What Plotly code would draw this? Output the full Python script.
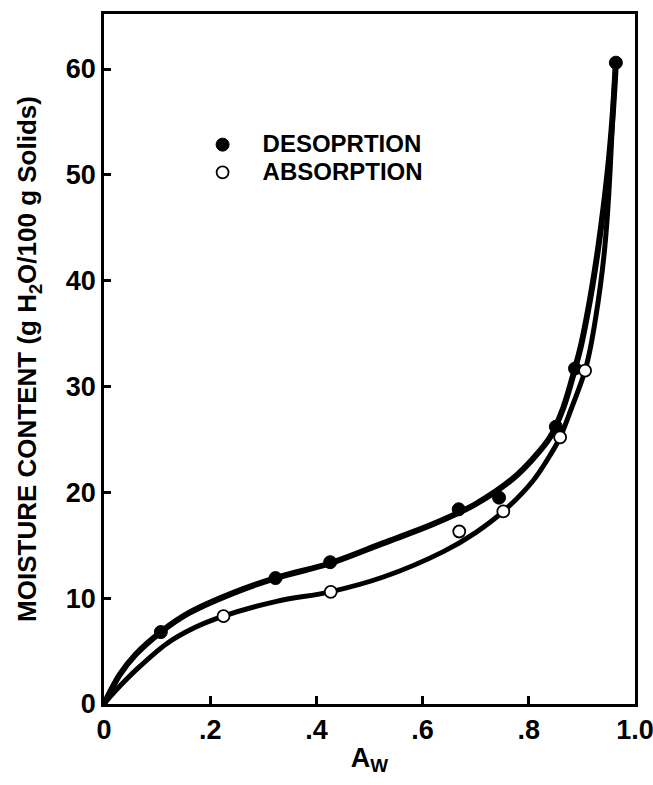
import plotly.graph_objects as go

# Measured points
des_x = [0.107, 0.323, 0.426, 0.668, 0.744, 0.851, 0.887, 0.964]
des_y = [6.8, 11.9, 13.4, 18.4, 19.5, 26.2, 31.7, 60.6]
abs_x = [0.225, 0.427, 0.669, 0.752, 0.859, 0.906]
abs_y = [8.3, 10.6, 16.3, 18.2, 25.2, 31.5]

# Fitted curves
des_curve_x = [0, 0.01, 0.03, 0.06, 0.107, 0.16, 0.244, 0.323, 0.426, 0.526, 0.62, 0.70,
               0.77, 0.81, 0.84, 0.865, 0.887, 0.898, 0.909, 0.920, 0.931, 0.941,
               0.950, 0.957, 0.961, 0.964]
des_curve_y = [0, 1.0, 2.8, 4.7, 6.8, 8.6, 10.5, 11.9, 13.3, 15.2, 17.0, 18.9,
               21.3, 23.3, 25.2, 28.0, 31.7, 33.8, 36.5, 39.6, 43.2, 47.0,
               51.0, 55.0, 58.0, 60.6]
abs_curve_x = [0, 0.01, 0.03, 0.06, 0.118, 0.17, 0.225, 0.325, 0.426, 0.526, 0.639, 0.70,
               0.752, 0.808, 0.84, 0.859, 0.88, 0.895, 0.906, 0.915, 0.925, 0.935,
               0.942, 0.947, 0.951, 0.955, 0.958, 0.961, 0.964]
abs_curve_y = [0, 0.6, 1.7, 3.2, 5.7, 7.2, 8.3, 9.7, 10.6, 12.0, 14.4, 16.2,
               18.2, 21.1, 23.5, 25.2, 27.9, 29.9, 31.5, 33.4, 36.2, 39.6,
               42.6, 45.5, 48.5, 52.3, 55.5, 58.3, 60.6]

x_tickvals = [0, 0.2, 0.4, 0.6, 0.8, 1.0]
x_ticktext = ["0", ".2", ".4", ".6", ".8", "1.0"]
y_tickvals = [0, 10, 20, 30, 40, 50, 60]
y_ticktext = ["0", "10", "20", "30", "40", "50", "60"]

legend_names = ["DESOPRTION", "ABSORPTION"]

FONT = "Liberation Sans, Arial, sans-serif"

def big(t):
    return "<span style='font-size:24px'>" + t + "</span>"

fig = go.Figure()
fig.add_trace(go.Scatter(x=des_curve_x, y=des_curve_y, mode="lines",
                         line=dict(color="black", width=6, shape="spline", smoothing=1.0),
                         showlegend=False, hoverinfo="skip"))
fig.add_trace(go.Scatter(x=abs_curve_x, y=abs_curve_y, mode="lines",
                         line=dict(color="black", width=5, shape="spline", smoothing=1.0),
                         showlegend=False, hoverinfo="skip"))
fig.add_trace(go.Scatter(x=des_x, y=des_y, mode="markers", name=big(legend_names[0]),
                         marker=dict(symbol="circle", size=13, color="black",
                                     line=dict(color="black", width=1))))
fig.add_trace(go.Scatter(x=abs_x, y=abs_y, mode="markers", name=big(legend_names[1]),
                         marker=dict(symbol="circle", size=12, color="white",
                                     line=dict(color="black", width=1.8))))

fig.update_layout(
    width=653, height=785,
    margin=dict(l=104, r=18, t=14, b=81),
    paper_bgcolor="white", plot_bgcolor="white",
    font=dict(family=FONT, color="black", size=24, weight="bold"),
    showlegend=True,
    legend=dict(x=0.148, y=0.838, xanchor="left", yanchor="top",
                font=dict(family=FONT, size=19, color="black", weight="bold"),
                itemwidth=70, bgcolor="rgba(0,0,0,0)", tracegroupgap=0),
    xaxis=dict(range=[0, 1.0], tickvals=x_tickvals, ticktext=x_ticktext,
               showline=True, linecolor="black", linewidth=2.5, mirror=True,
               ticks="inside", ticklen=8, tickwidth=2.5, tickcolor="black",
               showgrid=False, zeroline=False, automargin=False,
               ticklabeloverflow="allow",
               tickfont=dict(family=FONT, size=27, weight="bold"),
               title=dict(text="A<sub>W</sub>", standoff=4,
                          font=dict(family=FONT, size=27, weight="bold"))),
    yaxis=dict(range=[0, 65.2], tickvals=y_tickvals, ticktext=y_ticktext,
               showline=True, linecolor="black", linewidth=2.5, mirror=True,
               ticks="inside", ticklen=7, tickwidth=2.5, tickcolor="black",
               showgrid=False, zeroline=False, automargin=False,
               ticklabeloverflow="allow",
               tickfont=dict(family=FONT, size=27, weight="bold"),
               title=dict(text="MOISTURE CONTENT (g H<sub>2</sub>O/100 g Solids)", standoff=22,
                          font=dict(family=FONT, size=26, weight="bold"))),
)

fig.write_html("out.html")
